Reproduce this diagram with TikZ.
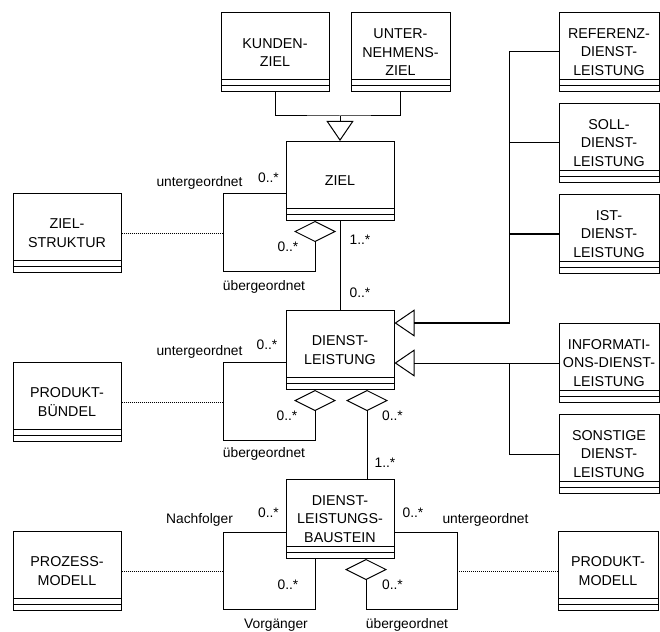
\documentclass[tikz,border=0pt]{standalone}
\usepackage{fontspec}
\setmainfont{Liberation Sans}
\usetikzlibrary{arrows.meta,calc,positioning}
\newcommand{\klassenschrift}{\fontsize{14.3}{18.5}\selectfont}
\newcommand{\rollenschrift}{\fontsize{13.8}{16}\selectfont}

\begin{document}
\begin{tikzpicture}[x=1pt,y=-1pt,line width=1pt,node distance=169pt,
                    gen/.style={-{Triangle[open,length=20pt,width=27pt,line width=1pt]}},
                    aggr/.style={-{Diamond[open,length=21pt,width=42pt]}}]
  \tikzstyle{klasse}=[rectangle,draw=black,fill=white,minimum width=108pt,minimum height=79pt,
                      inner sep=1pt,align=center,font=\klassenschrift,
                      path picture={\draw
                        ([yshift=6pt]path picture bounding box.south west) -- ([yshift=6pt]path picture bounding box.south east)
                        ([yshift=12pt]path picture bounding box.south west) -- ([yshift=12pt]path picture bounding box.south east);}]
  \tikzstyle{rolle}=[inner sep=0pt,font=\rollenschrift]
  \tikzstyle{assoz}=[line width=0.7pt,dash pattern=on 1pt off 1pt]

  \useasboundingbox (0,0) rectangle (660,631);

  \node[klasse] (kunde)                        at (275,52.5)   {KUNDEN-\\ZIEL};
  \node[klasse,minimum width=99pt] (unternehmen) at (400.5,52.5) {UNTER-\\NEHMENS-\\ZIEL};
  \node[klasse] (ziel)                         at (340,181)    {ZIEL};
  \node[klasse] (dienst)      [below of=ziel]                  {DIENST-\\LEISTUNG};
  \node[klasse] (baustein)    [below of=dienst]                {DIENST-\\LEISTUNGS-\\BAUSTEIN};

  \node[klasse] (zielstruktur)                 at (67,233)     {ZIEL-\\STRUKTUR};
  \node[klasse] (buendel)     [below of=zielstruktur]          {PRODUKT-\\BÜNDEL};
  \node[klasse] (prozess)     [below of=buendel]               {PROZESS-\\MODELL};
  \node[klasse,minimum width=100pt] (produktmodell) at (608,571) {PRODUKT-\\MODELL};

  \node[klasse,minimum width=100pt] (referenz) at (609,52) {REFERENZ-\\DIENST-\\LEISTUNG};
  \node[klasse,minimum width=100pt] (soll) [below of=referenz,node distance=91pt] {SOLL-\\DIENST-\\LEISTUNG};
  \node[klasse,minimum width=100pt] (ist)  [below of=soll,node distance=91pt]     {IST-\\DIENST-\\LEISTUNG};
  \node[klasse,minimum width=100pt] (info) at (609,363) {INFORMATI-\\ONS-DIENST-\\LEISTUNG};
  \node[klasse,minimum width=100pt] (sonstige) [below of=info,node distance=91pt] {SONSTIGE\\DIENST-\\LEISTUNG};

  % Rollen und Multiplizitaeten
  \node[rolle] (rZielUnter)     at ($(ziel.center)+(-140.5,2)$)   {untergeordnet};
  \node[rolle] (mZielUnter)     at ($(ziel.center)+(-71.5,-3)$)   {0..*};
  \node[rolle] (mZielUeber)     at ($(ziel.center)+(-52,66)$)     {0..*};
  \node[rolle] (rZielUeber)     at ($(ziel.center)+(-76,106)$)    {übergeordnet};
  \node[rolle] (mZielOben)      at ($(ziel.center)+(20,59)$)      {1..*};
  \node[rolle] (mDienstOben)    at ($(dienst.center)+(20,-57)$)   {0..*};
  \node[rolle] (rDienstUnter)   at ($(dienst.center)+(-140.5,2)$) {untergeordnet};
  \node[rolle] (mDienstUnter)   at ($(dienst.center)+(-73,-5)$)   {0..*};
  \node[rolle] (mDienstUeber)   at ($(dienst.center)+(-53,66)$)   {0..*};
  \node[rolle] (rDienstUeber)   at ($(dienst.center)+(-76,104)$)  {übergeordnet};
  \node[rolle] (mDienstTeil)    at ($(dienst.center)+(52.5,66)$)  {0..*};
  \node[rolle] (mBausteinOben)  at ($(dienst.center)+(45,113)$)   {1..*};
  \node[rolle] (rNachfolger)    at ($(baustein.center)+(-140.5,1)$) {Nachfolger};
  \node[rolle] (mNachfolger)    at ($(baustein.center)+(-71.5,-6)$) {0..*};
  \node[rolle] (mVorgaenger)    at ($(baustein.center)+(-52,66)$)   {0..*};
  \node[rolle] (rVorgaenger)    at ($(baustein.center)+(-64,106)$)  {Vorgänger};
  \node[rolle] (mBausteinUnter) at ($(baustein.center)+(73,-6)$)    {0..*};
  \node[rolle] (rBausteinUnter) at ($(baustein.center)+(145.5,1)$)  {untergeordnet};
  \node[rolle] (mBausteinUeber) at ($(baustein.center)+(52.5,66)$)  {0..*};
  \node[rolle] (rBausteinUeber) at ($(baustein.center)+(67,106)$)   {übergeordnet};

  \coordinate (zielgab) at ($(ziel.north)+(0,-25)$);
  \coordinate (oben)    at ($(dienst.east)+(115,-27)$);
  \coordinate (unten)   at ($(dienst.east)+(115,13)$);
  \coordinate (zlinks)  at ($(ziel.center)+(-117,0)$);
  \coordinate (dlinks)  at ($(dienst.center)+(-117,0)$);
  \coordinate (blinks)  at ($(baustein.center)+(-117,0)$);
  \coordinate (brechts) at ($(baustein.center)+(117,0)$);

  % Generalisierungen
  \draw (kunde.south) |- (zielgab) -| (unternehmen.south);
  \draw[gen] (zielgab) -- (ziel.north);
  \draw (referenz.west) -| (ist.west -| oben);
  \draw (soll.west) -- (soll.west -| oben);
  \draw[line width=1.6pt] (ist.west) -- (ist.west -| oben) -- (oben);
  \draw[gen,line width=1.6pt] (oben) -- ($(dienst.east)+(0,-27)$);
  \draw[gen] (info.west) -- ($(dienst.east)+(0,13)$);
  \draw (sonstige.west) -| (unten);

  % Assoziationen und Aggregationen
  \draw (ziel.south) -- (dienst.north);
  \draw[aggr] ($(ziel.west)+(0,12)$) -| ($(ziel.center)+(-117,90)$) -| ($(ziel.south)+(-25,0)$);
  \draw[aggr] ($(dienst.west)+(0,12)$) -| ($(dienst.center)+(-117,90)$) -| ($(dienst.south)+(-25,0)$);
  \draw[aggr] ($(baustein.north)+(27,0)$) -- ($(dienst.south)+(27,0)$);
  \draw ($(baustein.west)+(0,13)$) -| ($(baustein.center)+(-117,90)$) -| ($(baustein.south)+(-25,0)$);
  \draw[aggr] ($(baustein.east)+(0,13)$) -| ($(baustein.center)+(117,90)$) -| ($(baustein.south)+(26,0)$);

  \draw[assoz] (zielstruktur.east) -- (zielstruktur.east -| zlinks);
  \draw[assoz] (buendel.east) -- (buendel.east -| dlinks);
  \draw[assoz] (prozess.east) -- (prozess.east -| blinks);
  \draw[assoz] (produktmodell.west) -- (produktmodell.west -| brechts);
\end{tikzpicture}
\end{document}
